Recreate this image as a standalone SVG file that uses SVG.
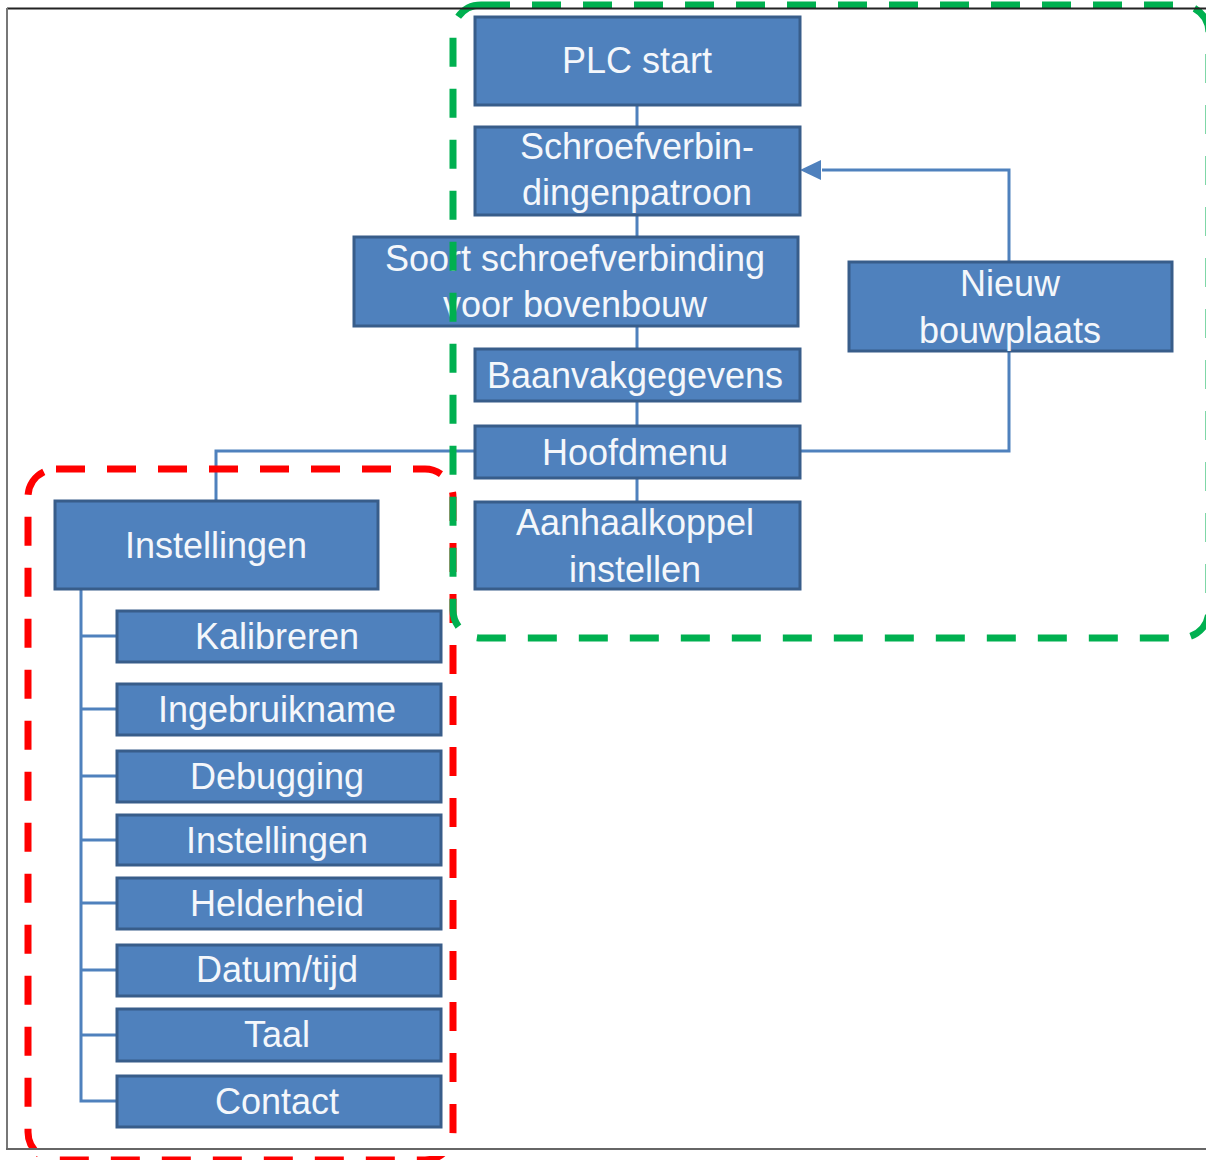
<svg xmlns="http://www.w3.org/2000/svg" width="1206" height="1160" viewBox="0 0 1206 1160">
  <defs>
    <style>
      .box rect { fill: #4F81BD; stroke: #385D8A; stroke-width: 3; }
      .box text { fill: #F4F7FB; font-family: "Liberation Sans", Arial, sans-serif; font-size: 36px; text-anchor: middle; }
      .conn { fill: none; stroke: #4F81BD; stroke-width: 3; }
      .zone { fill: none; stroke-width: 7; stroke-dasharray: 29 22; }
    </style>
  </defs>

  <rect x="0" y="0" width="1206" height="1160" fill="#FFFFFF"/>

  <!-- connectors -->
  <g id="connectors">
    <line class="conn" x1="637" y1="105" x2="637" y2="502"/>
    <polyline class="conn" points="474,451 216,451 216,500"/>
    <polyline class="conn" points="800,451 1009,451 1009,352"/>
    <polyline class="conn" points="1009,262 1009,170 822,170"/>
    <polygon points="800,170 821,160 821,180" fill="#4F81BD"/>
    <polyline class="conn" points="81,589 81,1101 116,1101"/>
    <line class="conn" x1="81" y1="636" x2="116" y2="636"/>
    <line class="conn" x1="81" y1="709" x2="116" y2="709"/>
    <line class="conn" x1="81" y1="776" x2="116" y2="776"/>
    <line class="conn" x1="81" y1="840" x2="116" y2="840"/>
    <line class="conn" x1="81" y1="903" x2="116" y2="903"/>
    <line class="conn" x1="81" y1="970" x2="116" y2="970"/>
    <line class="conn" x1="81" y1="1035" x2="116" y2="1035"/>
  </g>

  <!-- main flow -->
  <g id="plc-start" class="box">
    <rect x="475" y="17" width="325" height="88"/>
    <text x="637" y="73">PLC start</text>
  </g>
  <g id="schroefverbindingenpatroon" class="box">
    <rect x="475" y="127" width="325" height="88"/>
    <text x="637" y="159">Schroefverbin-</text>
    <text x="637" y="205">dingenpatroon</text>
  </g>
  <g id="soort-schroefverbinding" class="box">
    <rect x="354" y="237" width="444" height="89"/>
    <text x="575" y="271">Soort schroefverbinding</text>
    <text x="575" y="317">voor bovenbouw</text>
  </g>
  <g id="baanvakgegevens" class="box">
    <rect x="475" y="349" width="325" height="52"/>
    <text x="635" y="388">Baanvakgegevens</text>
  </g>
  <g id="hoofdmenu" class="box">
    <rect x="475" y="426" width="325" height="52"/>
    <text x="635" y="465">Hoofdmenu</text>
  </g>
  <g id="aanhaalkoppel" class="box">
    <rect x="475" y="502" width="325" height="87"/>
    <text x="635" y="535">Aanhaalkoppel</text>
    <text x="635" y="582">instellen</text>
  </g>
  <g id="nieuw-bouwplaats" class="box">
    <rect x="849" y="262" width="323" height="89"/>
    <text x="1010" y="296">Nieuw</text>
    <text x="1010" y="343">bouwplaats</text>
  </g>

  <!-- settings menu -->
  <g id="instellingen" class="box">
    <rect x="55" y="501" width="323" height="88"/>
    <text x="216" y="558">Instellingen</text>
  </g>
  <g id="kalibreren" class="box">
    <rect x="117" y="611" width="324" height="51"/>
    <text x="277" y="649">Kalibreren</text>
  </g>
  <g id="ingebruikname" class="box">
    <rect x="117" y="684" width="324" height="51"/>
    <text x="277" y="722">Ingebruikname</text>
  </g>
  <g id="debugging" class="box">
    <rect x="117" y="751" width="324" height="51"/>
    <text x="277" y="789">Debugging</text>
  </g>
  <g id="instellingen-sub" class="box">
    <rect x="117" y="815" width="324" height="50"/>
    <text x="277" y="853">Instellingen</text>
  </g>
  <g id="helderheid" class="box">
    <rect x="117" y="878" width="324" height="51"/>
    <text x="277" y="916">Helderheid</text>
  </g>
  <g id="datum-tijd" class="box">
    <rect x="117" y="945" width="324" height="51"/>
    <text x="277" y="982">Datum/tijd</text>
  </g>
  <g id="taal" class="box">
    <rect x="117" y="1009" width="324" height="52"/>
    <text x="277" y="1047">Taal</text>
  </g>
  <g id="contact" class="box">
    <rect x="117" y="1076" width="324" height="51"/>
    <text x="277" y="1114">Contact</text>
  </g>

  <!-- grouping outlines -->
  <rect class="zone" x="28" y="469" width="425" height="691" rx="28" ry="28" stroke="#FF0000"/>
  <rect class="zone" x="453" y="5" width="756" height="633" rx="28" ry="28" stroke="#00B050"/>

  <!-- page frame -->
  <rect x="8" y="1150" width="1198" height="6" fill="#FFFFFF"/>
  <line x1="7" y1="8.5" x2="1206" y2="8.5" stroke="#222222" stroke-width="2"/>
  <line x1="7" y1="8" x2="7" y2="1149" stroke="#777777" stroke-width="2"/>
  <line x1="6" y1="1149" x2="1206" y2="1149" stroke="#666666" stroke-width="2"/>
</svg>
